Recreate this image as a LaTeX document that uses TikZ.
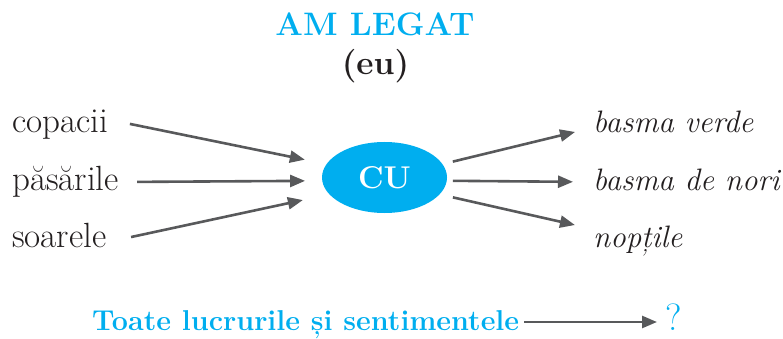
\documentclass[tikz,border=0pt]{standalone}
\usepackage{fontspec}
\usepackage{xcolor}
\usepackage{tikz}
\usetikzlibrary{shapes.geometric, arrows.meta, positioning}

\definecolor{cublue}{HTML}{00AEEF}
\definecolor{arrgray}{HTML}{58595B}
\definecolor{txtblack}{HTML}{231F20}

\begin{document}
\begin{tikzpicture}[x=1pt, y=-1pt,
  lbl/.style={font=\fontsize{35}{40}\selectfont, text=txtblack, inner sep=0pt,
    anchor=base west, text height=22pt, text depth=6pt},
  lblit/.style={lbl, font=\fontsize{31}{36}\selectfont\itshape},
  arr/.style={draw=arrgray, line width=2.6pt, -{Triangle[length=15pt,width=12pt]}}]
\useasboundingbox (0,0) rectangle (783,339);

% Title
\node[font=\fontsize{32.5}{36}\selectfont\bfseries, text=cublue, inner sep=0pt, anchor=base] (title) at (375,36) {AM LEGAT};
\node[font=\fontsize{33.5}{38}\selectfont\bfseries, text=txtblack, inner sep=0pt, anchor=base] (eu) at (375.5,75) {(eu)};

% Centre
\node[ellipse, fill=cublue, minimum width=125pt, minimum height=71pt, inner sep=0pt,
  font=\fontsize{31.5}{36}\selectfont\bfseries, text=white] (cu) at (384.5,177.5) {CU};

% Left words
\node[lbl] (copacii) at (12,133) {copacii};
\node[lbl] (pasarile) at (12,190) {păsările};
\node[lbl] (soarele) at (12,247) {soarele};

% Right words
\node[lblit] (basmaverde) at (593,133) {basma verde};
\node[lblit] (basmanori) at (593,190) {basma de nori};
\node[lblit] (noptile) at (593,247) {nopțile};

% Arrows into CU
\draw[arr, shorten <=22pt, shorten >=22pt] ([yshift=5.5pt]copacii.east) -- (cu.167);
\draw[arr, shorten <=18pt, shorten >=17pt] (pasarile.east) -- (cu.183);
\draw[arr, shorten <=25pt, shorten >=27pt] ([yshift=-3.3pt]soarele.east) -- (cu.197);

% Arrows out of CU
\draw[arr, shorten <=10.5pt, shorten >=18.5pt] (cu.13) -- ([yshift=-2.6pt]basmaverde.west);
\draw[arr, shorten <=6pt, shorten >=20pt] (cu.357) -- (basmanori.west);
\draw[arr, shorten <=13.5pt, shorten >=18.5pt] (cu.343) -- ([yshift=9.9pt]noptile.west);

% Bottom line
\node[lbl, font=\fontsize{28.7}{34}\selectfont\bfseries, text=cublue] (toate) at (92,330) {Toate lucrurile și sentimentele};
\node[lbl, font=\fontsize{38}{42}\selectfont, text=cublue] (q) at (665,330) {?};
\draw[arr, shorten <=5pt, shorten >=8pt] (toate.east) -- (q.west);

\end{tikzpicture}
\end{document}
